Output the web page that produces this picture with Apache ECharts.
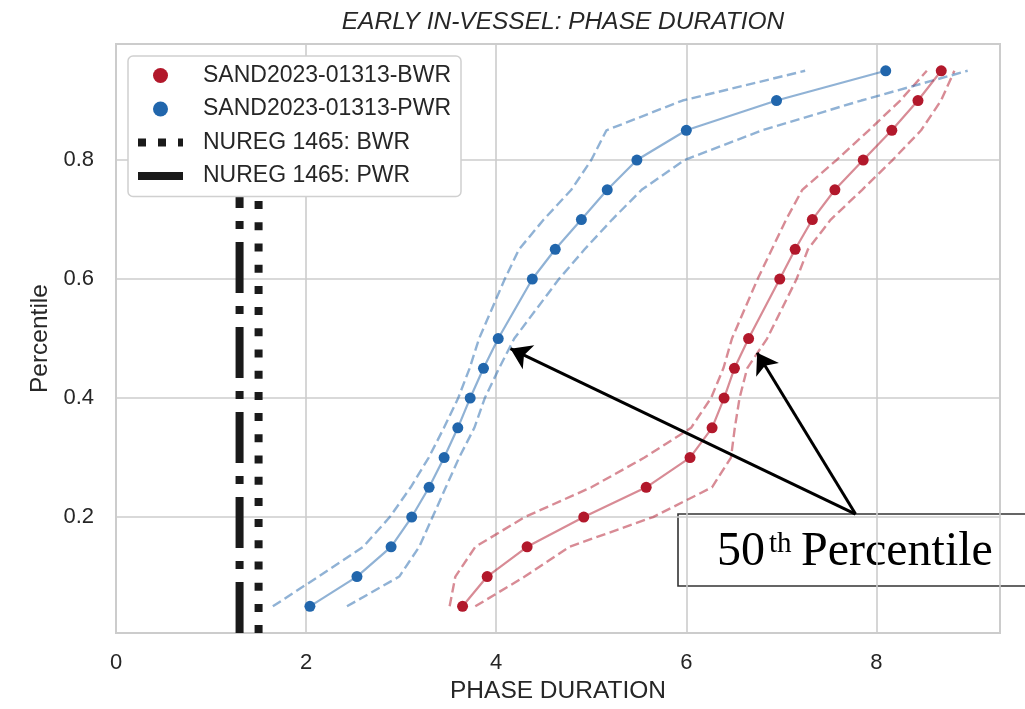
<!DOCTYPE html>
<html>
<head>
<meta charset="utf-8">
<script src="https://cdn.jsdelivr.net/npm/echarts@6/dist/echarts.min.js"></script>
<style>
  html, body { margin: 0; padding: 0; background: #ffffff; }
  #chart { width: 1025px; height: 709px; }
</style>
</head>
<body>
<div id="chart"></div>
<script>
// Percentile levels shared by every curve
const percentiles = [0.05, 0.10, 0.15, 0.20, 0.25, 0.30, 0.35, 0.40, 0.45, 0.50,
                     0.60, 0.65, 0.70, 0.75, 0.80, 0.85, 0.90, 0.95];

// SAND2023-01313 BWR: median phase duration and its uncertainty band
const bwrMedian = [3.646, 3.905, 4.325, 4.921, 5.578, 6.039, 6.271, 6.397, 6.506, 6.655,
                   6.983, 7.145, 7.326, 7.563, 7.861, 8.162, 8.437, 8.682];
const bwrLower  = [3.51, 3.57, 3.78, 4.30, 5.00, 5.56, 6.05, 6.26, 6.39, 6.48,
                   6.75, 6.90, 7.05, 7.22, 7.58, 7.92, 8.25, 8.53];
const bwrUpper  = [3.78, 4.30, 4.77, 5.65, 6.27, 6.47, 6.51, 6.56, 6.64, 6.85,
                   7.16, 7.28, 7.52, 7.85, 8.17, 8.47, 8.68, 8.82];

// SAND2023-01313 PWR: median phase duration and its uncertainty band
const pwrMedian = [2.040, 2.535, 2.894, 3.111, 3.294, 3.452, 3.596, 3.726, 3.866, 4.021,
                   4.380, 4.621, 4.896, 5.168, 5.480, 6.000, 6.949, 8.098];
const pwrLower  = [1.65, 2.13, 2.60, 2.88, 3.10, 3.29, 3.45, 3.60, 3.72, 3.82,
                   4.09, 4.24, 4.50, 4.79, 5.00, 5.16, 5.96, 7.25];
const pwrUpper  = [2.43, 2.98, 3.19, 3.33, 3.47, 3.61, 3.77, 3.88, 4.03, 4.19,
                   4.66, 4.93, 5.22, 5.53, 5.98, 6.80, 7.84, 8.96];

// NUREG 1465 reference durations, drawn as vertical lines over this percentile span
const nuregBWR = 1.5;
const nuregPWR = 1.3;
const nuregSpan = [0.005, 0.745];

// Axis limits and tick labels
const xLimits = [0, 9.3];
const yLimits = [0.005, 0.995];
const xTickLabels = ['0', '2', '4', '6', '8'];
const yTickLabels = ['0.2', '0.4', '0.6', '0.8'];

// "50th Percentile" callout: arrow tail and the two arrow tips (data units)
const arrowTail = [7.78, 0.205];
const arrowTips = [[4.15, 0.483], [6.745, 0.476]];

const RED = '#b2182b', BLUE = '#2166ac';
const RED_LINE = 'rgba(178,24,43,0.5)', BLUE_LINE = 'rgba(33,102,172,0.5)';
const INK = '#262626';
const FONT = '"Liberation Sans", Arial, sans-serif';
const SERIF = '"Liberation Serif", "Times New Roman", serif';

const pairs = (xs) => xs.map((x, i) => [x, percentiles[i]]);

function medianSeries(name, xs, color, lineColor, extra) {
  return Object.assign({
    name: name, type: 'line', data: pairs(xs),
    symbol: 'circle', symbolSize: 11, showSymbol: true,
    itemStyle: { color: color },
    lineStyle: { color: lineColor, width: 2.2 },
    z: 3, silent: true, animation: false
  }, extra || {});
}
function bandSeries(name, xs, lineColor) {
  return {
    name: name, type: 'line', data: pairs(xs), showSymbol: false, symbol: 'none',
    lineStyle: { color: lineColor, width: 2.4, type: [9.5, 4.5] },
    z: 2, silent: true, animation: false
  };
}
function verticalSeries(name, x, dash) {
  return {
    name: name, type: 'line', data: nuregSpan.map((y) => [x, y]),
    showSymbol: false, symbol: 'none',
    itemStyle: { color: '#1a1a1a' },
    lineStyle: { color: '#1a1a1a', width: 8, type: dash, cap: 'butt' },
    z: 2, silent: true, animation: false
  };
}

const chart = echarts.init(document.getElementById('chart'), null, { renderer: 'canvas' });

chart.setOption({
  backgroundColor: '#ffffff',
  animation: false,
  title: {
    text: 'EARLY IN-VESSEL: PHASE DURATION',
    left: 558, top: 5, textAlign: 'center',
    textStyle: { fontFamily: FONT, fontSize: 24.5, fontStyle: 'italic', fontWeight: 'normal', color: INK }
  },
  grid: {
    left: 116, right: 25, top: 44, bottom: 75,
    show: true, borderColor: '#cccccc', borderWidth: 2, backgroundColor: '#ffffff'
  },
  xAxis: {
    type: 'value', min: xLimits[0], max: xLimits[1], splitNumber: 5,
    name: 'PHASE DURATION', nameLocation: 'middle', nameGap: 40,
    nameTextStyle: { fontFamily: FONT, fontSize: 24.5, color: INK },
    axisLine: { show: false }, axisTick: { show: false },
    axisLabel: {
      margin: 19, fontFamily: FONT, fontSize: 22, color: INK,
      showMaxLabel: false,
      formatter: (v) => { const s = String(Math.round(v)); return (Math.abs(v - Math.round(v)) < 1e-6 && xTickLabels.includes(s)) ? s : ''; }
    },
    splitLine: { show: true, lineStyle: { color: '#cccccc', width: 1.6 } }
  },
  yAxis: {
    type: 'value', min: yLimits[0], max: yLimits[1], splitNumber: 5,
    name: 'Percentile', nameLocation: 'middle', nameGap: 62,
    nameTextStyle: { fontFamily: FONT, fontSize: 24.5, color: INK },
    axisLine: { show: false }, axisTick: { show: false },
    axisLabel: {
      margin: 22, fontFamily: FONT, fontSize: 22, color: INK,
      showMinLabel: false, showMaxLabel: false,
      formatter: (v) => { const s = (Math.round(v * 10) / 10).toFixed(1); return (Math.abs(v * 10 - Math.round(v * 10)) < 1e-6 && yTickLabels.includes(s)) ? s : ''; }
    },
    splitLine: { show: true, lineStyle: { color: '#cccccc', width: 1.6 } }
  },
  legend: {
    orient: 'vertical', left: 128, top: 56,
    padding: [8, 10, 9, 10],
    itemWidth: 45, itemHeight: 15, itemGap: 10.5,
    backgroundColor: '#ffffff',
    borderColor: '#d0d0d0', borderWidth: 1.5, borderRadius: 5,
    textStyle: { fontFamily: FONT, fontSize: 23, color: INK, padding: [0, 0, 0, 15], lineHeight: 23 },
    selectedMode: false, z: 6,
    data: [
      { name: 'SAND2023-01313-BWR', icon: 'circle' },
      { name: 'SAND2023-01313-PWR', icon: 'circle' },
      { name: 'NUREG 1465: BWR', icon: 'path://M0,0H8V8H0Z M20,0H28V8H20Z M40,0H45V8H40Z' },
      { name: 'NUREG 1465: PWR', icon: 'path://M0,0H45V8H0Z' }
    ]
  },
  series: [
    bandSeries('BWR lower', bwrLower, RED_LINE),
    bandSeries('BWR upper', bwrUpper, RED_LINE),
    bandSeries('PWR lower', pwrLower, BLUE_LINE),
    bandSeries('PWR upper', pwrUpper, BLUE_LINE),
    verticalSeries('NUREG 1465: BWR', nuregBWR, [8, 13.2]),
    verticalSeries('NUREG 1465: PWR', nuregPWR, [51, 13, 8, 13]),
    medianSeries('SAND2023-01313-BWR', bwrMedian, RED, RED_LINE),
    medianSeries('SAND2023-01313-PWR', pwrMedian, BLUE, BLUE_LINE, {
      markLine: {
        silent: true, animation: false,
        symbol: ['none', 'arrow'], symbolSize: 20,
        label: { show: false },
        lineStyle: { color: '#000000', width: 3, type: 'solid' },
        itemStyle: { color: '#000000' },
        emphasis: { disabled: true },
        data: arrowTips.map((tip) => [{ coord: arrowTail }, { coord: tip }])
      }
    })
  ],
  graphic: [
    {
      type: 'group', z: 20,
      children: [
        { type: 'rect', shape: { x: 678, y: 514, width: 360, height: 72 },
          style: { fill: '#ffffff', stroke: '#333333', lineWidth: 1.6 } },
        { type: 'text', x: 717, y: 552.5,
          style: { text: '50', font: '48px ' + SERIF, fill: '#000', verticalAlign: 'middle', align: 'left' } },
        { type: 'text', x: 769, y: 544,
          style: { text: 'th', font: '29px ' + SERIF, fill: '#000', verticalAlign: 'middle', align: 'left' } },
        { type: 'text', x: 801, y: 552.5,
          style: { text: 'Percentile', font: '48px ' + SERIF, fill: '#000', verticalAlign: 'middle', align: 'left' } }
      ]
    }
  ]
});
</script>
</body>
</html>
